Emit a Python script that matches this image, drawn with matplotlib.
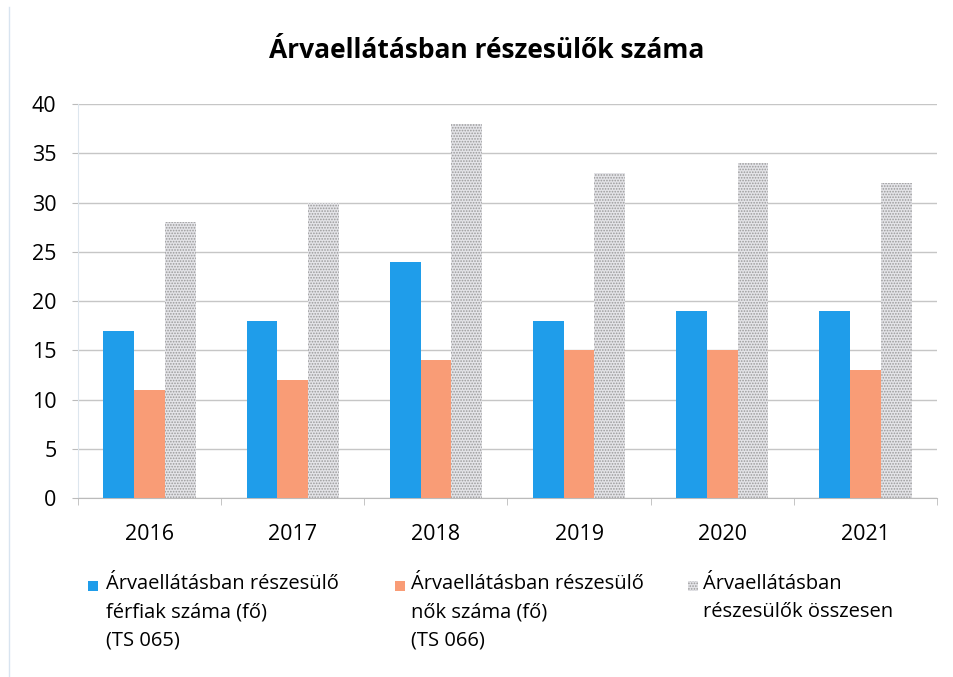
import numpy as np
import matplotlib
matplotlib.use("Agg")
import matplotlib.pyplot as plt
from matplotlib.patches import Rectangle

years = ["2016", "2017", "2018", "2019", "2020", "2021"]
ferfiak = [17, 18, 24, 18, 19, 19]
nok = [11, 12, 14, 15, 15, 13]
osszesen = [28, 30, 38, 33, 34, 32]

labels = [
    "Árvaellátásban részesülő\nférfiak száma (fő)\n(TS 065)",
    "Árvaellátásban részesülő\nnők száma (fő)\n(TS 066)",
    "Árvaellátásban\nrészesülők összesen",
]
colors = ["#1F9DEA", "#F99C76", "#E4E4E8"]

plt.rcParams["font.family"] = ["Open Sans", "DejaVu Sans"]
plt.rcParams["hatch.linewidth"] = 0.8

W, H = 954, 677
fig = plt.figure(figsize=(W / 100, H / 100), dpi=100)
ax = fig.add_axes([78 / W, 1 - 498 / H, (937 - 78) / W, (498 - 104) / H])

x = np.arange(len(years))
w = 0.215

ax.bar(x - w, ferfiak, w, color=colors[0], linewidth=0, zorder=3)
ax.bar(x, nok, w, color=colors[1], linewidth=0, zorder=3)
ax.bar(x + w, osszesen, w, facecolor=colors[2], edgecolor="#9A9A9A",
       hatch="......", linewidth=0, zorder=3)

ax.set_ylim(0, 40)
ax.set_xlim(-0.5, len(years) - 0.5)
ax.set_yticks(range(0, 41, 5))
ax.set_xticks(x)
ax.set_xticklabels(years)
ax.set_xticks(np.arange(-0.5, len(years), 1), minor=True)
ax.tick_params(axis="x", which="major", length=0, labelsize=15.5, pad=19)
ax.tick_params(axis="x", which="minor", length=5, color="#BBBBBB")
ax.tick_params(axis="y", length=4.5, color="#BBBBBB", labelsize=15.5, pad=11)

ax.grid(axis="y", color="#C6C6C6", linewidth=1, zorder=0)
for s in ["top", "right"]:
    ax.spines[s].set_visible(False)
ax.spines["left"].set_color("#DDE6EE")
ax.spines["bottom"].set_color("#BBBBBB")

fig.text(487 / W, 1 - 50 / H, "Árvaellátásban részesülők száma", ha="center",
         va="center", fontsize=19, fontweight="bold")

# legend drawn by hand: square next to the first line, text top-aligned
sq_x = [88, 395, 688]
txt_x = [106, 411, 703]
for i in range(3):
    fig.add_artist(Rectangle((sq_x[i] / W, 1 - 591 / H), 10 / W, 10 / H,
                             transform=fig.transFigure,
                             facecolor=colors[i], edgecolor="#9A9A9A" if i == 2 else "none",
                             hatch="......" if i == 2 else None, linewidth=0))
    fig.text(txt_x[i] / W, 1 - 574 / H, labels[i], ha="left", va="top",
             fontsize=14.5, linespacing=1.55)

# scan edge
fig.add_artist(plt.Line2D([0.009, 0.009], [0.0, 0.99], color="#D8E4F0",
                          linewidth=1, transform=fig.transFigure))

fig.savefig("out.png", dpi=100)
